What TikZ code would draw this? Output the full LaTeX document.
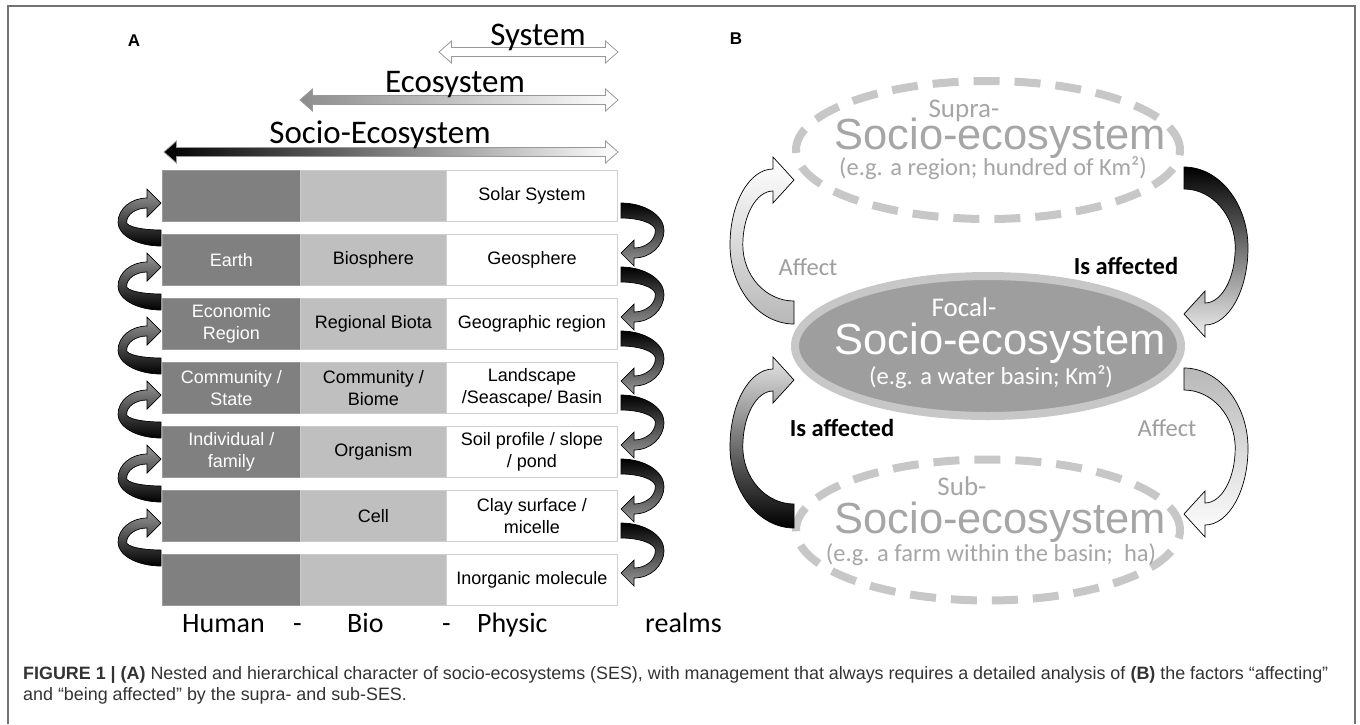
\documentclass[tikz,border=0pt]{standalone}
\usepackage{fontspec}
\setmainfont{Carlito}
\newfontfamily\arial{Liberation Sans}
\usetikzlibrary{shapes.geometric}

\newcommand\setcarrow[6]{\def\cW{#1}\def\cD{#2}\def\chh{#3}\def\chl{#4}\def\ct{#5}\def\ctt{#6}}
\newcommand\carrow[4]{%
 \begin{scope}[shift={#1}, x=#2, y=#3]
 \pgfmathsetmacro\cYm{0.45*\cD}
 \pgfmathsetmacro\cwm{0.2*\cW}
 \pgfmathsetmacro\cta{\ct/2}
 \pgfmathsetmacro\cA{-\chl-0.55*(\cW-\chl)}
 \pgfmathsetmacro\cB{\cYm-0.55*(\cYm+\cta)}
 \pgfmathsetmacro\cC{\cYm+0.55*(\cD-\cYm)}
 \pgfmathsetmacro\cE{-0.55*\cW}
 \pgfmathsetmacro\cF{\cD-\ctt}
 \pgfmathsetmacro\cG{-0.55*(\cW-\cwm)}
 \pgfmathsetmacro\cH{-\cW+\cwm}
 \pgfmathsetmacro\cI{\cYm+0.55*(\cF-\cYm)}
 \pgfmathsetmacro\cJ{\cYm-0.55*(\cYm-\cta)}
 \pgfmathsetmacro\cK{-\chl-0.55*(\cW-\cwm-\chl)}
 \path[#4] (0,0) -- (-\chl,-\chh) -- (-\chl,-\cta)
   .. controls (\cA,-\cta) and (-\cW,\cB) .. (-\cW,\cYm)
   .. controls (-\cW,\cC) and (\cE,\cD) .. (0,\cD)
   -- (0,\cF)
   .. controls (\cG,\cF) and (\cH,\cI) .. (\cH,\cYm)
   .. controls (\cH,\cJ) and (\cK,\cta) .. (-\chl,\cta)
   -- (-\chl,\chh) -- cycle;
 \end{scope}}

\newcommand\dblarrow[4]{%
 \path[#4] (#1,#3) -- ({#1+12.5},{#3-11}) -- ({#1+12.5},{#3-4.5}) -- ({#2-12.5},{#3-4.5})
  -- ({#2-12.5},{#3-11}) -- (#2,#3) -- ({#2-12.5},{#3+11}) -- ({#2-12.5},{#3+4.5})
  -- ({#1+12.5},{#3+4.5}) -- ({#1+12.5},{#3+11}) -- cycle;}

\begin{document}
\begin{tikzpicture}[x=1pt,y=-1pt,
 cell/.style={anchor=north west, minimum height=51pt, inner sep=0pt, align=center,
   font=\arial\fontsize{18}{22}\selectfont},
 cellD/.style={cell, fill=black!50, draw=black!40, line width=0.6pt, text=white, minimum width=138pt},
 cellL/.style={cell, fill=black!25, draw=black!20, line width=0.6pt, text=black, minimum width=146pt},
 cellW/.style={cell, fill=white, draw=black!18, line width=1pt, minimum width=171pt},
 scaletxt/.style={anchor=base, inner sep=0pt, font=\fontsize{33}{38}\selectfont, text=black},
 realm/.style={anchor=base west, inner sep=0pt, font=\fontsize{28}{32}\selectfont, text=black},
 paneltxt/.style={font=\arial\bfseries\fontsize{17}{20}\selectfont},
 dashell/.style={ellipse, draw=black!22, line width=8pt, dash pattern=on 26pt off 15pt, inner sep=0pt, minimum width=384pt},
 pretxt/.style={anchor=base, inner sep=0pt, font=\fontsize{27}{30}\selectfont},
 bigtxt/.style={anchor=base, inner sep=0pt, font=\arial\fontsize{43.5}{48}\selectfont},
 egtxt/.style={anchor=base, inner sep=0pt, font=\fontsize{24.5}{28}\selectfont},
 lbltxt/.style={anchor=base, inner sep=0pt, font=\fontsize{24.5}{28}\selectfont},
 boldlbl/.style={anchor=base, inner sep=0pt, text=black, font=\bfseries\fontsize{24.5}{28}\selectfont},
 captxt/.style={anchor=base west, inner sep=0pt, font=\arial\fontsize{17.9}{21}\selectfont, text=black!80},
 carr/.style={draw=black, line width=0.7pt}
]
\useasboundingbox (0,0) rectangle (1360,724);
\fill[white] (0,0) rectangle (1360,724);
\draw[black!55, line width=1.5pt] (8,724) -- (8,6) -- (1355,6) -- (1355,724);

% ---------------- Panel A ----------------
\node[paneltxt] (labA) at (134,41) {A};

\dblarrow{439}{618}{52}{draw=black!40, line width=0.8pt, fill=white}
\dblarrow{300}{618}{100}{draw=black!40, line width=0.8pt, left color=black!45, right color=white}
\dblarrow{164}{618}{152}{draw=black!40, line width=0.8pt, left color=black, right color=white}
\node[scaletxt] (tsys) at (538,45) {System};
\node[scaletxt] (teco) at (455,92) {Ecosystem};
\node[scaletxt] (tses) at (380,143) {Socio-Ecosystem};

\foreach \i/\d/\l/\w in {
 0/{}/{}/{Solar System},
 1/{Earth}/{Biosphere}/{Geosphere},
 2/{Economic\\Region}/{Regional Biota}/{Geographic region},
 3/{Community /\\State}/{Community /\\Biome}/{Landscape\\/Seascape/ Basin},
 4/{Individual /\\family}/{Organism}/{Soil profile / slope\\/ pond},
 5/{}/{Cell}/{Clay surface /\\micelle},
 6/{}/{}/{Inorganic molecule}}
{
 \node[cellD] (d\i) at (162,{170+64*\i}) {\d};
 \node[cellL] (l\i) at (300,{170+64*\i}) {\l};
 \node[cellW] (w\i) at (446,{170+64*\i}) {\w};
}

\setcarrow{43}{43}{14}{14}{10}{16}
\foreach \k in {0,...,5}
 {\carrow{(161,{203+64*\k})}{1pt}{-1pt}{carr, top color=black!40, bottom color=black}}
\setcarrow{43}{50}{13}{13}{10}{15}
\foreach \k in {0,...,5}
 {\carrow{(621,{253+64*\k})}{-1pt}{1pt}{carr, top color=black, bottom color=black!40}}

\node[realm] (hum) at (182,632) {Human};
\node[realm] (da) at (293,632) {-};
\node[realm] (bio) at (347,632) {Bio};
\node[realm] (db) at (442,632) {-};
\node[realm] (phy) at (477,632) {Physic};
\node[realm] (rea) at (645,632) {realms};

% ---------------- Panel B ----------------
\node[paneltxt] (labB) at (736,39) {B};

\node[dashell, minimum height=138pt] (supra) at (988,150) {};
\node[dashell, minimum height=141pt] (sub) at (988,530) {};
\node[ellipse, fill=black!38, draw=black!22, line width=8pt, inner sep=0pt,
      minimum width=386pt, minimum height=140pt] (focal) at (988,346) {};

\node[pretxt, text=black!35] (supraT) at (964,117) {Supra-};
\node[bigtxt, text=black!35] (supraS) at (1000,149) {Socio-ecosystem};
\node[egtxt, text=black!35] (supraE) at (993,175) {(e.g. a region; hundred of Km²)};

\node[pretxt, text=white] (focalT) at (964,316) {Focal-};
\node[bigtxt, text=white] (focalS) at (1000,354) {Socio-ecosystem};
\node[egtxt, text=white] (focalE) at (991,384) {(e.g. a water basin; Km²)};

\node[pretxt, text=black!35] (subT) at (962,495) {Sub-};
\node[bigtxt, text=black!35] (subS) at (1000,533) {Socio-ecosystem};
\node[egtxt, text=black!35] (subE) at (991,561) {(e.g. a farm within the basin;\ \ ha)};

\setcarrow{64}{144}{23}{21}{22}{23}
\carrow{(794,180)}{1pt}{-1pt}{carr, top color=white, bottom color=black!28}
\setcarrow{64}{148}{23}{21}{22}{24}
\carrow{(794,380)}{1pt}{-1pt}{carr, top color=black!10, bottom color=black}
\setcarrow{64}{147}{23}{21}{22}{22}
\carrow{(1184,314)}{-1pt}{1pt}{carr, top color=black, bottom color=black!6}
\setcarrow{64}{146}{23}{21}{22}{22}
\carrow{(1184,514)}{-1pt}{1pt}{carr, top color=black!28, bottom color=white}

\node[lbltxt, text=black!38] (aff1) at (808,275) {Affect};
\node[boldlbl] (isa1) at (1126,274) {Is affected};
\node[boldlbl] (isa2) at (842,436) {Is affected};
\node[lbltxt, text=black!38] (aff2) at (1167,436) {Affect};

% ---------------- Caption ----------------
\node[captxt] (cap1) at (23,679) {\textbf{FIGURE 1 | (A)} Nested and hierarchical character of socio-ecosystems (SES), with management that always requires a detailed analysis of \textbf{(B)} the factors “affecting”};
\node[captxt] (cap2) at (23,700) {and “being affected” by the supra- and sub-SES.};
\end{tikzpicture}
\end{document}
